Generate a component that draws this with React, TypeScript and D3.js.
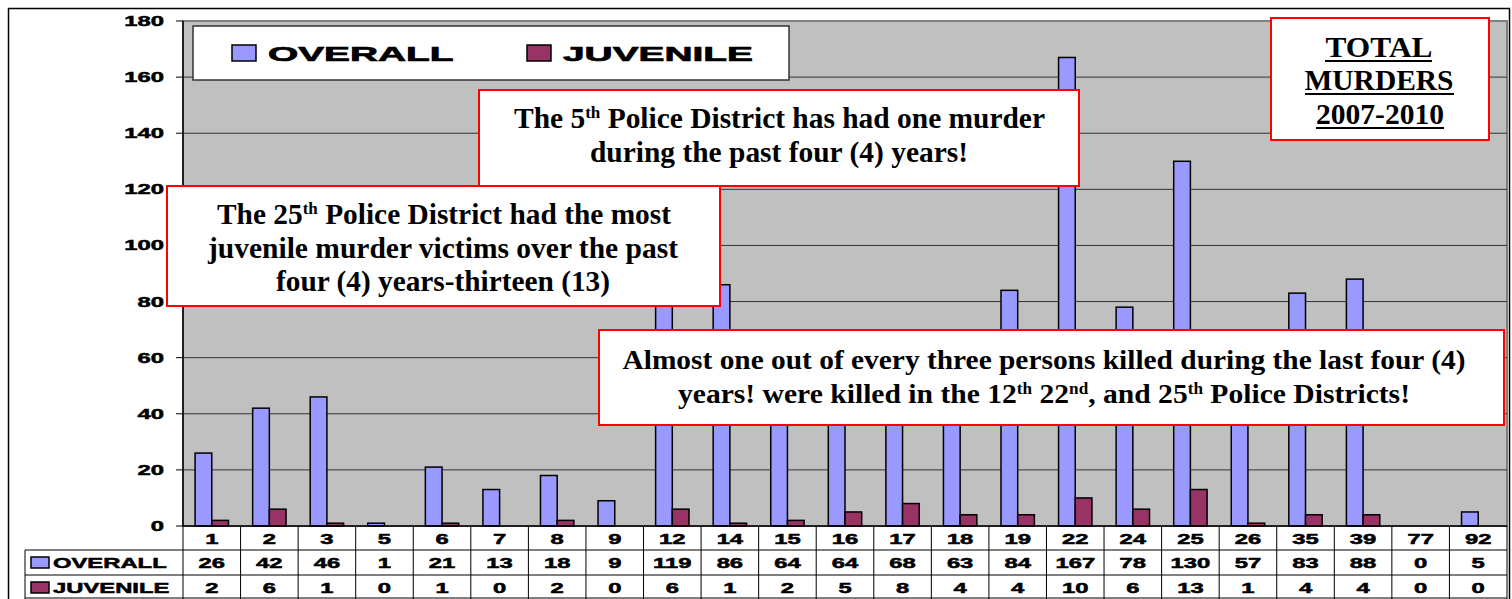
import React from "react";
import * as d3 from "d3";

const districts = ["1","2","3","5","6","7","8","9","12","14","15","16","17","18","19","22","24","25","26","35","39","77","92"];
const overall = [26,42,46,1,21,13,18,9,119,86,64,64,68,63,84,167,78,130,57,83,88,0,5];
const juvenile = [2,6,1,0,1,0,2,0,6,1,2,5,8,4,4,10,6,13,1,4,4,0,0];
const yTicks = [0,20,40,60,80,100,120,140,160,180];
const seriesNames = ["OVERALL","JUVENILE"];
const seriesColors = ["#9999FF","#993366"];

const W = 1512, H = 599;
const PL = 183, PR = 1507, PT = 21, PB = 526;
const ROW1 = 550, ROW2 = 575, ROW3 = 599;
const SX = 1.7;
const SANS = "'Liberation Sans', Arial, sans-serif";
const SERIF = "'Liberation Serif', 'Times New Roman', serif";

function SText({x, y, children, size = 14, anchor = "middle", sx = SX, sw = 0.5}: any) {
  return (
    <text transform={`translate(${x},${y}) scale(${sx},1)`} textAnchor={anchor}
      fontFamily={SANS} fontWeight="bold" fontSize={size} fill="#000"
      stroke="#000" strokeWidth={sw}>{children}</text>
  );
}

function Sup({children}: any) {
  return <tspan baselineShift="super" fontSize="58%">{children}</tspan>;
}

function Box({x, y, w, h}: any) {
  return <rect x={x} y={y} width={w} height={h} fill="#fff" stroke="#FF0000" strokeWidth={2} />;
}

function SerifLine({x, y, len, size, children}: any) {
  return (
    <text x={x} y={y} textAnchor="middle" fontFamily={SERIF} fontWeight="bold" fontSize={size}
      textLength={len} lengthAdjust="spacingAndGlyphs" fill="#000">{children}</text>
  );
}

export default function App() {
  const x = d3.scaleBand<string>().domain(districts).range([PL, PR]).padding(0);
  const y = d3.scaleLinear().domain([0, 180]).range([PB, PT]);
  const bw = x.bandwidth() * 0.29;
  const FS = 30;

  return (
    <svg width={W} height={H} style={{position: "absolute", left: 0, top: 0, background: "#fff"}}>
      {/* outer frame */}
      <rect x={8.5} y={8.5} width={1501} height={620} fill="#fff" stroke="#000" strokeWidth={1.5} />
      {/* plot background */}
      <rect x={PL} y={PT} width={PR - PL} height={PB - PT} fill="#C0C0C0" stroke="#808080" strokeWidth={2} />
      {/* gridlines */}
      {yTicks.filter(t => t > 0 && t < 180).map(t => (
        <line key={t} x1={PL} x2={PR} y1={y(t)} y2={y(t)} stroke="#333" strokeWidth={1} />
      ))}
      {/* y axis */}
      <line x1={PL} x2={PL} y1={PT} y2={PB} stroke="#000" strokeWidth={1.5} />
      {yTicks.map(t => (
        <g key={t}>
          <line x1={PL - 7} x2={PL} y1={y(t)} y2={y(t)} stroke="#000" strokeWidth={1} />
          <SText x={164} y={y(t) + 5} anchor="end">{t}</SText>
        </g>
      ))}
      {/* bars */}
      {districts.map((d, i) => {
        const cx = (x(d) as number) + x.bandwidth() / 2;
        return (
          <g key={d}>
            {overall[i] > 0 && (
              <rect x={cx - bw} y={y(overall[i])} width={bw} height={PB - y(overall[i])}
                fill={seriesColors[0]} stroke="#000" strokeWidth={1.5} />
            )}
            {juvenile[i] > 0 && (
              <rect x={cx} y={y(juvenile[i])} width={bw} height={PB - y(juvenile[i])}
                fill={seriesColors[1]} stroke="#000" strokeWidth={1.5} />
            )}
          </g>
        );
      })}
      {/* data table */}
      <g>
        <line x1={PL} x2={PR} y1={PB} y2={PB} stroke="#000" strokeWidth={1.5} />
        <line x1={25} x2={PR} y1={ROW1} y2={ROW1} stroke="#000" strokeWidth={1} />
        <line x1={25} x2={PR} y1={ROW2} y2={ROW2} stroke="#000" strokeWidth={1} />
        <line x1={25} x2={PR} y1={ROW3 - 1} y2={ROW3 - 1} stroke="#000" strokeWidth={1} />
        <line x1={25} x2={25} y1={ROW1} y2={ROW3} stroke="#000" strokeWidth={1} />
        {districts.map((d) => (
          <line key={"v" + d} x1={x(d)} x2={x(d)} y1={PB} y2={ROW3} stroke="#000" strokeWidth={1} />
        ))}
        <line x1={PR} x2={PR} y1={PB} y2={ROW3} stroke="#000" strokeWidth={1} />
        {districts.map((d, i) => {
          const cx = (x(d) as number) + x.bandwidth() / 2;
          return (
            <g key={"t" + d}>
              <SText x={cx} y={544}>{d}</SText>
              <SText x={cx} y={568}>{overall[i]}</SText>
              <SText x={cx} y={593}>{juvenile[i]}</SText>
            </g>
          );
        })}
        {seriesNames.map((s, i) => (
          <g key={s}>
            <rect x={31} y={[557, 582][i]} width={18} height={11} fill={seriesColors[i]} stroke="#000" strokeWidth={1.5} />
            <SText x={53} y={[568, 593][i]} anchor="start">{s}</SText>
          </g>
        ))}
      </g>
      {/* legend */}
      <rect x={193} y={26} width={596} height={54} fill="#fff" stroke="#333" strokeWidth={1.5} />
      {seriesNames.map((s, i) => (
        <g key={"lg" + s}>
          <rect x={[232, 527][i]} y={45} width={24} height={16} fill={seriesColors[i]} stroke="#000" strokeWidth={1.5} />
          <SText x={[268, 563][i]} y={61} size={21} anchor="start" sx={1.85} sw={0.7}>{s}</SText>
        </g>
      ))}
      {/* annotation boxes */}
      <Box x={479} y={90} w={600} h={96} />
      <SerifLine x={779.5} y={128} len={531} size={FS}>The 5<Sup>th</Sup> Police District has had one murder</SerifLine>
      <SerifLine x={779} y={162} len={378} size={FS}>during the past four (4) years!</SerifLine>

      <Box x={167} y={186} w={553} h={120} />
      <SerifLine x={444} y={224} len={454} size={FS}>The 25<Sup>th</Sup> Police District had the most</SerifLine>
      <SerifLine x={443} y={258} len={470} size={FS}>juvenile murder victims over the past</SerifLine>
      <SerifLine x={443} y={291} len={334} size={FS}>four (4) years-thirteen (13)</SerifLine>

      <Box x={599} y={330} w={905} h={95} />
      <SerifLine x={1044} y={369} len={843} size={28}>Almost one out of every three persons killed during the last four (4)</SerifLine>
      <SerifLine x={1044} y={403} len={732} size={28}>years! were killed in the 12<Sup>th</Sup> 22<Sup>nd</Sup>, and 25<Sup>th</Sup> Police Districts!</SerifLine>

      <Box x={1271} y={18} w={218} h={122} />
      <SerifLine x={1379} y={57} len={107} size={FS}>TOTAL</SerifLine>
      <line x1={1325} x2={1432} y1={61} y2={61} stroke="#000" strokeWidth={2} />
      <SerifLine x={1379} y={90} len={149} size={FS}>MURDERS</SerifLine>
      <line x1={1305} x2={1454} y1={94} y2={94} stroke="#000" strokeWidth={2} />
      <SerifLine x={1380} y={124} len={128} size={FS}>2007-2010</SerifLine>
      <line x1={1316} x2={1444} y1={128} y2={128} stroke="#000" strokeWidth={2} />
    </svg>
  );
}
